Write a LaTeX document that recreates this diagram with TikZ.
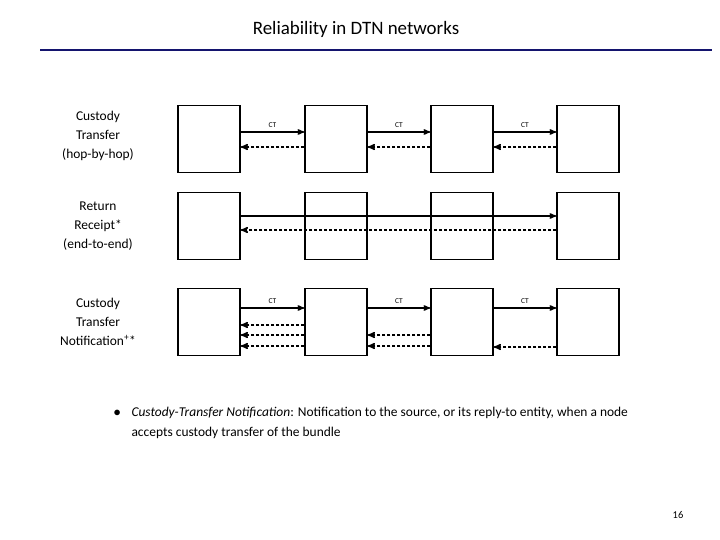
\documentclass[tikz,border=0pt]{standalone}
\usepackage{fontspec}
\setmainfont{Carlito}
\usetikzlibrary{arrows}
\definecolor{navy}{RGB}{20,20,110}
\begin{document}
\begin{tikzpicture}[x=1bp,y=-1bp, node/.style={draw, line width=1.6pt, minimum width=62bp, minimum height=67bp, inner sep=0pt},
 fw/.style={line width=1.3pt, -stealth'}, bk/.style={line width=1.5pt, densely dashed, -stealth'},
 rowlabel/.style={align=center, font=\fontsize{13.5}{19}\selectfont}, ct/.style={font=\fontsize{7.5}{8}\selectfont}]
\useasboundingbox (0,0) rectangle (720,540);
\node at (356,29) {\fontsize{19}{22}\selectfont Reliability in DTN networks};
\draw[navy, line width=1.5pt] (40,50) -- (712,50);

% boxes
\foreach \r/\y in {1/139,2/226,3/322}
  \foreach \c/\x in {1/209,2/336,3/462,4/588}
    \node (b\r\c) [node] at (\x,\y) {};

% labels
\node [rowlabel] at (98,136) {Custody\\Transfer\\(hop-by-hop)};
\node [rowlabel] at (98,226) {Return\\Receipt*\\(end-to-end)};
\node [rowlabel] at (98,322) {Custody\\Transfer\\Notification\textsuperscript{+}*};

% hop-by-hop
\foreach \a/\b in {1/2,2/3,3/4} {
  \draw [fw] ([yshift=7bp]b1\a.east) -- node[ct,above] {CT} ([yshift=7bp]b1\b.west);
  \draw [bk] ([yshift=-8bp]b1\b.west) -- ([yshift=-8bp]b1\a.east);
  \draw [fw] ([yshift=14bp]b3\a.east) -- node[ct,above] {CT} ([yshift=14bp]b3\b.west);
}
% end-to-end
\draw [fw] ([yshift=10bp]b21.east) -- ([yshift=10bp]b24.west);
\draw [bk] ([yshift=-4bp]b24.west) -- ([yshift=-4bp]b21.east);

% notifications
\foreach \s in {3,13,24}
  \draw [bk] ([yshift=-\s bp]b32.west) -- ([yshift=-\s bp]b31.east);
\foreach \s in {13,24}
  \draw [bk] ([yshift=-\s bp]b33.west) -- ([yshift=-\s bp]b32.east);
\draw [bk] ([yshift=-25bp]b34.west) -- ([yshift=-25bp]b33.east);

\node [anchor=north west, align=left, font=\fontsize{13.5}{20}\selectfont] at (110,404)
  {\makebox[18bp][l]{$\bullet$}\textit{Custody-Transfer Notification}: Notification to the source, or its reply-to entity, when a node\\\hspace*{18bp}accepts custody transfer of the bundle};
\node [font=\fontsize{10.5}{12}\selectfont] at (678,515) {16};
\end{tikzpicture}
\end{document}
